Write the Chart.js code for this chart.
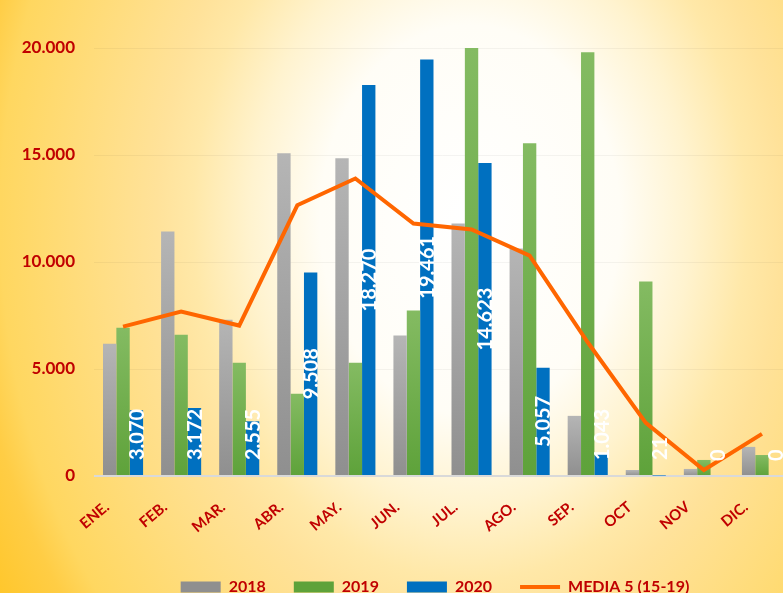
<!DOCTYPE html>
<html>
<head>
<meta charset="utf-8">
<script src="https://cdn.jsdelivr.net/npm/chart.js@4/dist/chart.umd.min.js"></script>
<style>
  html, body { margin: 0; padding: 0; overflow: hidden; }
  #wrap {
    position: relative; width: 783px; height: 593px; overflow: hidden;
    background: radial-gradient(ellipse 600px 780px at 470px 220px,
      #ffffff 0px, #fffdf6 150px, #fff3cf 220px, #ffe8a8 277px, #ffe29a 313px,
      #ffd760 470px, #ffcd45 500px, #ffc72c 551px, #ffc425 650px);
  }
  #c { position: absolute; left: 0; top: 0; }
</style>
</head>
<body>
<div id="wrap"><canvas id="c" width="870" height="605" style="width:870px;height:605px"></canvas></div>
<script>
const categories = ['ENE.', 'FEB.', 'MAR.', 'ABR.', 'MAY.', 'JUN.', 'JUL.', 'AGO.', 'SEP.', 'OCT', 'NOV', 'DIC.'];
const values2018 = [6180, 11430, 7300, 15080, 14850, 6560, 11800, 10630, 2810, 280, 330, 1360];
const values2019 = [6930, 6600, 5290, 3840, 5290, 7730, 20300, 15550, 19800, 9090, 750, 980];
const values2020 = [3070, 3172, 2555, 9508, 18270, 19461, 14623, 5057, 1043, 21, 0, 0];
const valuesMedia = [6980, 7680, 7030, 12650, 13900, 11800, 11520, 10300, 6250, 2480, 280, 1970];
const seriesNames = ['2018', '2019', '2020', 'MEDIA 5 (15-19)'];
const yTicks = [0, 5000, 10000, 15000, 20000];

const RED = '#C00000';
const FONT = 'Lato';
const LEGEND_CENTER = 435;

function fmt(v) {
  return String(Math.round(v)).replace(/\B(?=(\d{3})+(?!\d))/g, '.');
}

function barGrad(c, top, bot) {
  const ch = c.chart;
  const a = ch.chartArea;
  if (!a || c.type !== 'data' || !ch.scales.y) return bot;
  const y = ch.scales.y;
  const v = c.parsed ? c.parsed.y : c.raw;
  const yt = y.getPixelForValue(Math.min(v, y.max));
  const yb = y.getPixelForValue(0);
  if (!isFinite(yt) || yb - yt < 1) return bot;
  const g = ch.ctx.createLinearGradient(0, yt, 0, yb);
  g.addColorStop(0, top);
  g.addColorStop(1, bot);
  return g;
}

const valueLabels = {
  id: 'valueLabels',
  afterDatasetsDraw(chart) {
    const meta = chart.getDatasetMeta(2);
    const ctx = chart.ctx;
    ctx.save();
    ctx.font = 'bold 20px ' + FONT;
    ctx.fillStyle = '#ffffff';
    ctx.textAlign = 'center';
    ctx.textBaseline = 'middle';
    meta.data.forEach((el, i) => {
      const text = fmt(values2020[i]);
      const tw = ctx.measureText(text).width;
      const base = el.base;
      const cy = Math.min((el.y + base) / 2, base - 15 - tw / 2);
      ctx.save();
      ctx.translate(el.x, cy);
      ctx.rotate(-Math.PI / 2);
      ctx.fillText(text, 0, 1);
      ctx.restore();
    });
    ctx.restore();
  }
};

const legendShift = {
  id: 'legendShift',
  beforeDraw(chart) {
    const lg = chart.legend;
    if (!lg) return;
    const d = LEGEND_CENTER - (lg.left + lg.right) / 2;
    lg.left += d;
    lg.right += d;
  }
};

new Chart(document.getElementById('c'), {
  data: {
    labels: categories,
    datasets: [
      {
        type: 'bar', label: seriesNames[0], data: values2018, order: 2,
        backgroundColor: c => barGrad(c, '#b5b5b5', '#8f8f8f'),
        pointStyle: 'rect'
      },
      {
        type: 'bar', label: seriesNames[1], data: values2019, order: 2,
        backgroundColor: c => barGrad(c, '#84bb62', '#5ea23a'),
        pointStyle: 'rect'
      },
      {
        type: 'bar', label: seriesNames[2], data: values2020, order: 2,
        backgroundColor: '#0070C0',
        pointStyle: 'rect'
      },
      {
        type: 'line', label: seriesNames[3], data: valuesMedia, order: 0,
        borderColor: '#FF6600', backgroundColor: '#FF6600',
        borderWidth: 4, pointRadius: 0, tension: 0,
        pointStyle: 'line', borderJoinStyle: 'miter'
      }
    ]
  },
  options: {
    responsive: false,
    animation: false,
    devicePixelRatio: 1,
    layout: { padding: { top: 48, right: 79, left: 0, bottom: 0 } },
    datasets: {
      bar: { categoryPercentage: 0.69, barPercentage: 1.0, borderWidth: 0 }
    },
    scales: {
      x: {
        grid: { display: false },
        border: { display: false },
        ticks: {
          color: RED, font: { family: FONT, size: 15, weight: 'bold' },
          minRotation: 40, maxRotation: 40, autoSkip: false, padding: 14,
          labelOffset: -16
        },
        afterFit: s => { s.height = 75; }
      },
      y: {
        min: 0, max: 20000,
        afterBuildTicks: s => { s.ticks = yTicks.map(v => ({ value: v })); },
        border: { display: false },
        grid: {
          drawTicks: false,
          color: c => c.tick && c.tick.value === 0 ? '#d9d9d9' : 'rgba(0,0,0,0.045)',
          lineWidth: c => c.tick && c.tick.value === 0 ? 2 : 1
        },
        ticks: {
          color: RED, font: { family: FONT, size: 17, weight: 'bold' },
          padding: 19,
          callback: v => fmt(v)
        },
        afterFit: s => { s.width = 94; }
      }
    },
    plugins: {
      legend: {
        position: 'bottom',
        labels: {
          color: RED, font: { family: FONT, size: 16, weight: 'bold' },
          usePointStyle: true, pointStyleWidth: 40, boxHeight: 11, padding: 28,
          sort: (a, b) => a.datasetIndex - b.datasetIndex
        }
      },
      tooltip: { enabled: false }
    }
  },
  plugins: [valueLabels, legendShift]
});
</script>
</body>
</html>
